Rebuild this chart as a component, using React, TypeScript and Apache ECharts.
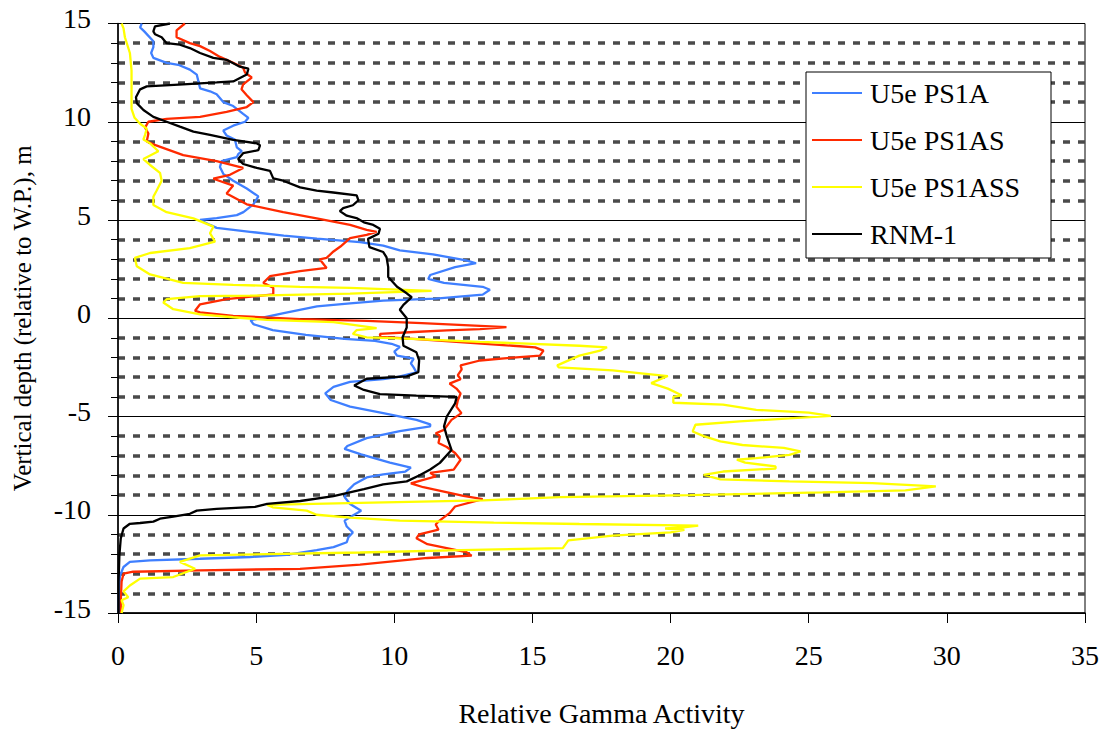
import React, { useEffect, useRef } from "react";
import * as echarts from "echarts";

// Gamma logs: each point is [relative gamma activity, vertical depth (m, relative to W.P.)]
const ps1a: [number, number][] = [
  [0.86, 15], [0.8, 14.8], [0.95, 14.6], [1.28, 14.1], [1.28, 13.8], [1.2, 13.5], [1.28, 13.25],
  [1.76, 13.0], [2.18, 12.9], [2.6, 12.65], [2.85, 12.4], [2.97, 11.7], [3.33, 11.55], [3.57, 11.4],
  [3.81, 11.0], [4.17, 10.8], [4.53, 10.4], [4.72, 10.2], [4.6, 10.0], [4.17, 9.8], [3.81, 9.55],
  [3.93, 9.3], [4.23, 9.1], [4.3, 8.7], [4.48, 8.5], [4.35, 8.35], [4.3, 8.2], [3.75, 8.0],
  [3.69, 7.7], [3.81, 7.35], [4.17, 7.0], [4.66, 6.6], [5.08, 6.2], [4.9, 5.8], [4.54, 5.4],
  [4.3, 5.25], [3.57, 5.1], [2.97, 5.0], [3.33, 4.75], [3.57, 4.6], [4.78, 4.4], [6.0, 4.2],
  [7.2, 4.05], [8.76, 3.87], [9.6, 3.7], [10.2, 3.45], [11.4, 3.25], [12.6, 2.95], [12.96, 2.8],
  [12.2, 2.6], [11.3, 2.2], [11.23, 2.0], [11.8, 1.8], [13.2, 1.6], [13.46, 1.45], [13.2, 1.2],
  [11.5, 1.0], [9.6, 0.9], [8.4, 0.76], [7.2, 0.6], [6.0, 0.26], [4.8, -0.1], [4.9, -0.3],
  [5.6, -0.6], [6.8, -0.85], [8.2, -1.05], [9.3, -1.15], [9.9, -1.3], [10.2, -1.46], [10.0, -1.7],
  [10.1, -1.9], [10.7, -2.06], [10.6, -2.3], [10.7, -2.5], [10.8, -2.75], [10.1, -3.0], [9.6, -3.1],
  [8.4, -3.24], [7.8, -3.49], [7.5, -3.82], [7.7, -4.16], [8.4, -4.5], [9.6, -4.83], [10.8, -5.17],
  [11.3, -5.4], [11.3, -5.5], [10.2, -5.75], [9.0, -6.1], [8.3, -6.5], [8.2, -6.65], [8.8, -6.93],
  [9.84, -7.35], [10.6, -7.6], [10.4, -7.8], [9.6, -7.94], [9.0, -8.1], [8.55, -8.45], [8.3, -8.8],
  [8.2, -9.1], [8.4, -9.45], [8.8, -9.8], [8.5, -10.04], [8.2, -10.3], [8.28, -10.6], [8.5, -10.9],
  [8.34, -11.14], [8.28, -11.4], [7.8, -11.65], [7.19, -11.8], [6.1, -12.04], [4.78, -12.15],
  [2.97, -12.24], [1.16, -12.32], [0.43, -12.4], [0.2, -12.66], [0.07, -13.1], [0.03, -14.1], [0.03, -15],
];

const ps1as: [number, number][] = [
  [2.42, 15], [2.12, 14.65], [2.12, 14.3], [2.6, 14.0], [2.97, 13.85], [3.33, 13.6], [3.69, 13.3],
  [4.17, 13.0], [4.53, 12.75], [4.6, 12.5], [4.84, 12.25], [4.53, 11.9], [4.47, 11.65], [4.66, 11.35],
  [4.9, 11.0], [4.66, 10.75], [3.93, 10.5], [2.97, 10.25], [1.76, 10.15], [1.1, 10.0], [0.98, 9.7],
  [1.1, 9.4], [1.04, 9.0], [1.28, 8.85], [2.36, 8.3], [3.57, 8.0], [4.53, 7.65], [4.05, 7.3],
  [3.45, 7.1], [4.17, 6.75], [3.93, 6.35], [4.66, 5.8], [5.98, 5.4], [7.19, 5.08], [8.4, 4.75],
  [9.0, 4.5], [9.36, 4.4], [9.0, 4.24], [8.4, 4.08], [8.05, 3.65], [7.8, 3.4], [7.55, 3.07],
  [7.3, 3.0], [7.55, 2.56], [6.59, 2.4], [5.5, 2.14], [5.26, 1.8], [5.62, 1.55], [5.62, 1.22],
  [3.93, 0.97], [2.97, 0.71], [2.79, 0.38], [2.97, 0.3], [4.17, 0.12], [6.59, -0.04], [9.0, -0.13],
  [11.0, -0.25], [14.06, -0.45], [13.1, -0.55], [11.9, -0.62], [10.7, -0.7], [9.48, -0.8],
  [9.5, -0.95], [10.7, -1.05], [12.5, -1.23], [14.3, -1.4], [15.1, -1.48], [15.4, -1.65],
  [15.27, -1.9], [14.3, -2.0], [13.1, -2.15], [12.4, -2.4], [12.44, -2.6], [12.3, -2.9], [12.4, -3.1],
  [12.0, -3.33], [12.25, -3.58], [12.4, -3.83], [12.3, -4.17], [12.25, -4.5], [12.43, -4.83],
  [12.07, -5.17], [11.8, -5.68], [11.5, -5.85], [11.65, -6.0], [11.6, -6.35], [11.9, -6.55],
  [12.2, -6.86], [12.4, -7.2], [12.15, -7.7], [11.3, -7.87], [11.5, -8.05], [10.6, -8.4],
  [11.05, -8.6], [12.5, -9.04], [13.2, -9.2], [12.2, -9.58], [12.0, -9.92], [11.6, -10.34],
  [11.5, -10.5], [11.6, -10.76], [10.9, -11.0], [10.8, -11.2], [11.2, -11.5], [11.9, -11.7],
  [12.6, -11.9], [12.8, -12.08], [11.2, -12.2], [8.76, -12.54], [6.59, -12.75], [2.97, -12.83],
  [0.55, -12.9], [0.2, -13.0], [0.13, -13.4], [0.1, -14.4], [0.1, -15],
];

const ps1ass: [number, number][] = [
  [0.13, 15], [0.2, 14.75], [0.25, 14.3], [0.43, 13.5], [0.49, 12.6], [0.49, 11.5], [0.49, 10.66],
  [0.6, 10.2], [0.8, 9.9], [1.04, 9.65], [0.98, 9.33], [0.92, 9.1], [1.16, 8.9], [1.46, 8.5],
  [0.92, 8.1], [1.16, 7.8], [1.52, 7.4], [1.58, 7.0], [1.4, 6.5], [1.28, 6.18], [1.28, 5.76],
  [1.76, 5.4], [2.73, 5.08], [3.45, 4.66], [3.33, 4.33], [3.51, 3.9], [2.6, 3.57], [1.16, 3.32],
  [0.61, 3.07], [0.68, 2.65], [1.16, 2.23], [2.36, 1.8], [4.17, 1.7], [6.59, 1.6], [8.4, 1.55],
  [11.35, 1.39], [8.4, 1.25], [4.78, 1.15], [2.97, 1.13], [1.76, 0.97], [1.64, 0.8], [2.0, 0.46],
  [2.97, 0.2], [4.17, 0.05], [5.38, -0.08], [7.8, -0.2], [9.36, -0.5], [8.64, -0.6], [8.5, -0.8],
  [9.0, -0.97], [10.2, -1.02], [13.1, -1.2], [16.7, -1.4], [17.7, -1.48], [17.45, -1.65],
  [16.7, -1.9], [15.9, -2.4], [15.95, -2.5], [17.9, -2.65], [19.9, -2.94], [19.3, -3.3],
  [19.9, -3.58], [20.4, -3.92], [20.1, -4.0], [20.1, -4.3], [21.9, -4.4], [23.1, -4.66],
  [25.0, -4.8], [25.8, -4.97], [24.3, -5.1], [22.5, -5.25], [20.9, -5.42], [20.8, -5.76],
  [21.2, -6.0], [21.8, -6.27], [22.6, -6.45], [24.1, -6.6], [24.7, -6.78], [24.3, -6.95],
  [23.1, -7.12], [22.4, -7.2], [22.7, -7.35], [23.8, -7.54], [23.8, -7.65], [21.9, -7.8],
  [21.2, -7.97], [21.8, -8.2], [24.3, -8.3], [27.3, -8.39], [29.6, -8.56], [28.5, -8.76],
  [25.5, -8.86], [20.7, -9.0], [16.0, -9.1], [13.2, -9.27], [8.76, -9.4], [5.4, -9.5],
  [5.6, -9.62], [6.83, -9.79], [7.19, -10.0], [8.4, -10.15], [10.2, -10.3], [13.6, -10.4],
  [16.7, -10.47], [21.0, -10.55], [20.4, -10.65], [19.8, -10.7], [20.5, -10.77], [20.0, -10.9],
  [17.9, -11.06], [16.3, -11.3], [16.1, -11.7], [12.4, -11.8], [8.76, -11.92], [2.97, -12.07],
  [2.24, -12.4], [2.79, -12.75], [2.0, -13.17], [0.8, -13.25], [0.43, -13.6], [0.2, -13.9],
  [0.37, -14.2], [0.13, -14.35], [0.2, -14.6], [0.13, -15],
];

const rnm1: [number, number][] = [
  [1.88, 15], [1.34, 14.85], [1.28, 14.6], [1.34, 14.45], [1.58, 14.3], [1.76, 14.0], [2.24, 13.92],
  [2.6, 13.75], [2.97, 13.5], [3.45, 13.25], [3.93, 13.15], [4.41, 12.8], [4.72, 12.7], [4.66, 12.4],
  [4.17, 12.05], [3.57, 12.0], [2.36, 11.9], [1.04, 11.8], [0.8, 11.65], [0.65, 11.25], [0.68, 10.95],
  [0.92, 10.6], [1.28, 10.25], [1.76, 10.0], [2.24, 9.75], [2.73, 9.5], [3.33, 9.33], [4.17, 9.08],
  [5.02, 8.9], [5.14, 8.8], [5.08, 8.55], [4.53, 8.4], [4.35, 8.1], [4.53, 7.85], [5.02, 7.65],
  [5.5, 7.5], [5.62, 7.12], [5.98, 7.0], [6.59, 6.66], [7.19, 6.5], [7.79, 6.4], [8.64, 6.25],
  [8.7, 6.0], [8.5, 5.75], [8.15, 5.6], [8.03, 5.45], [8.28, 5.22], [8.63, 5.1], [8.9, 4.88],
  [9.24, 4.75], [9.48, 4.55], [9.43, 4.3], [9.05, 4.04], [9.1, 3.62], [9.6, 3.37], [9.72, 3.1],
  [9.78, 2.6], [9.78, 2.1], [10.1, 1.6], [10.45, 1.27], [10.63, 1.07], [10.33, 0.68], [10.2, 0.43],
  [10.45, 0.0], [10.45, -0.47], [10.3, -0.97], [10.33, -1.4], [10.8, -1.73], [10.9, -2.15],
  [10.87, -2.74], [10.45, -2.96], [9.0, -3.08], [8.55, -3.42], [8.9, -3.65], [9.48, -3.86],
  [10.8, -3.94], [12.26, -4.0], [12.2, -4.33], [11.9, -5.0], [11.8, -5.5], [11.9, -6.0],
  [12.07, -6.7], [11.65, -7.36], [11.3, -7.7], [10.9, -8.0], [10.45, -8.3], [9.6, -8.45],
  [8.9, -8.7], [7.8, -9.05], [6.6, -9.3], [5.4, -9.45], [4.96, -9.6], [3.57, -9.7], [2.85, -9.79],
  [2.6, -9.95], [2.0, -10.1], [1.52, -10.2], [1.28, -10.35], [0.8, -10.42], [0.43, -10.46],
  [0.2, -10.7], [0.1, -11.2], [0.05, -12.07], [0.02, -13.4], [0.02, -15],
];

const seriesNames = ["U5e PS1A", "U5e PS1AS", "U5e PS1ASS", "RNM-1"];
const seriesColors = ["#3f7fff", "#ff2a00", "#ffff00", "#000000"];
const seriesData = [ps1a, ps1as, ps1ass, rnm1];

const xTitle = "Relative Gamma Activity";
const yTitle = "Vertical depth (relative to W.P.), m";

const FONT = "Liberation Serif, serif";

export default function App() {
  const ref = useRef<HTMLDivElement>(null);

  useEffect(() => {
    if (!ref.current) return;
    const chart = echarts.init(ref.current, undefined, { renderer: "svg" });
    const text = { fontFamily: FONT, fontSize: 28, color: "#000" };

    chart.setOption({
      animation: false,
      backgroundColor: "#ffffff",
      grid: {
        left: 118,
        top: 23.5,
        right: 19,
        bottom: 114.5,
        show: true,
        borderColor: "#000",
        borderWidth: 1,
        backgroundColor: "transparent",
      },
      xAxis: {
        type: "value",
        min: 0,
        max: 35,
        interval: 5,
        name: xTitle,
        nameLocation: "middle",
        nameGap: 86,
        nameTextStyle: { ...text },
        axisLine: { show: true, onZero: false, lineStyle: { color: "#000", width: 1.5 } },
        axisTick: { show: true, length: 10, lineStyle: { color: "#000" } },
        axisLabel: { ...text, margin: 28 },
        splitLine: { show: false },
      },
      yAxis: {
        type: "value",
        min: -15,
        max: 15,
        interval: 5,
        name: yTitle,
        nameLocation: "middle",
        nameRotate: 90,
        nameGap: 83,
        nameTextStyle: { ...text, fontSize: 25 },
        axisLine: { show: true, onZero: false, lineStyle: { color: "#000", width: 1.5 } },
        axisTick: { show: true, length: 10, lineStyle: { color: "#000" } },
        minorTick: { show: true, splitNumber: 5, length: 7, lineStyle: { color: "#000" } },
        axisLabel: { ...text, margin: 27, verticalAlign: "bottom", lineHeight: 10 },
        splitLine: { show: true, lineStyle: { color: "#000", width: 1 } },
        minorSplitLine: {
          show: true,
          lineStyle: { color: "#4a4a4a", width: 3.5, type: [7, 8] },
        },
      },
      legend: {
        orient: "vertical",
        left: 812,
        top: 79,
        padding: 0,
        itemWidth: 50,
        itemHeight: 2,
        itemGap: 19,
        icon: "rect",
        selectedMode: false,
        textStyle: { ...text, lineHeight: 28, padding: [0, 0, 0, 3] },
        data: seriesNames,
      },
      graphic: [
        {
          type: "rect",
          z: 3,
          shape: { x: 806, y: 72, width: 245, height: 186 },
          style: { fill: "#fff", stroke: "#000", lineWidth: 1 },
        },
      ],
      series: seriesNames.map((name, i) => ({
        name,
        type: "line",
        data: seriesData[i],
        showSymbol: false,
        symbol: "none",
        z: 2,
        color: seriesColors[i],
        lineStyle: { color: seriesColors[i], width: 2.3 },
        itemStyle: { color: seriesColors[i] },
      })),
    });

    return () => chart.dispose();
  }, []);

  return (
    <div
      ref={ref}
      style={{ position: "fixed", left: 0, top: 0, width: 1104, height: 732, background: "#fff" }}
    />
  );
}
